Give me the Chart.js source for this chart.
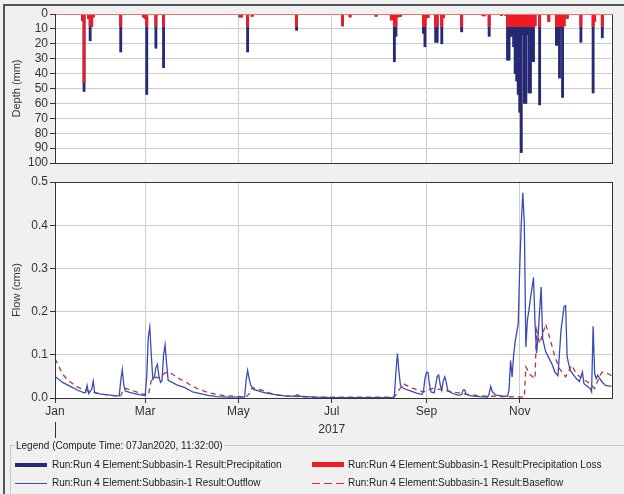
<!DOCTYPE html>
<html>
<head>
<meta charset="utf-8">
<script src="https://cdn.jsdelivr.net/npm/chart.js@4"></script>
<style>
  html,body{margin:0;padding:0;background:#f0f0f0;}
  #page{position:relative;width:624px;height:494px;overflow:hidden;background:#f0f0f0;font-family:"Liberation Sans",Arial,sans-serif;color:#222;}
  #frame{position:absolute;left:3px;top:4px;width:700px;height:600px;border-top:2px solid #555;border-left:2px solid #555;}
  canvas{position:absolute;left:0;}
  #c1{top:0;}
  #c2{top:170px;}
  fieldset{position:absolute;left:10px;top:440px;width:640px;height:70px;margin:0;padding:0;border:1px solid #c8c8c8;}
  legend{font-size:10px;padding:0 1px;margin-left:4px;color:#222;}
  .t{position:absolute;font-size:10px;line-height:12px;white-space:nowrap;color:#222;}
  .sw{position:absolute;}
</style>
</head>
<body>
<div id="page">
  <div id="frame"></div>
  <canvas id="c1" width="624" height="175"></canvas>
  <canvas id="c2" width="624" height="270"></canvas>
  <fieldset><legend>Legend (Compute Time: 07Jan2020, 11:32:00)</legend></fieldset>
  <div class="sw" style="left:15px;top:463px;width:32px;height:4px;background:#262a74;"></div>
  <div class="t" style="left:52px;top:459px;">Run:Run 4 Element:Subbasin-1 Result:Precipitation</div>
  <div class="sw" style="left:312px;top:462px;width:32px;height:5px;background:#ee1c24;"></div>
  <div class="t" style="left:348px;top:459px;">Run:Run 4 Element:Subbasin-1 Result:Precipitation Loss</div>
  <div class="sw" style="left:15px;top:483px;width:32px;height:1px;background:#3a4bb5;"></div>
  <div class="t" style="left:52px;top:477px;">Run:Run 4 Element:Subbasin-1 Result:Outflow</div>
  <div class="sw" style="left:312px;top:483px;width:32px;height:1px;background:repeating-linear-gradient(90deg,#b03a3a 0 8px,transparent 8px 12px);"></div>
  <div class="t" style="left:348px;top:477px;">Run:Run 4 Element:Subbasin-1 Result:Baseflow</div>
</div>
<script>
// ---- tick labels / categories ----
const monthLabels = ['Jan','Mar','May','Jul','Sep','Nov'];
const monthDays   = [0, 59, 120, 181, 243, 304];
const yearLabel = '2017';

// ---- precipitation (mm), day of year ----
const precipDays = [18,19,22,23,24,25,43,58,59,60,66,71,121,122,126,129,158,188,193,210,220,222,223,224,225,226,241,242,243,244,249,250,253,254,266,280,281,284,292,295,296,297,298,299,300,301,302,303,304,305,306,307,308,309,310,311,312,313,314,317,323,328,329,330,331,332,333,335,344,352,353,358];
const precipTotal = [4.5,52,3,18,8.5,2,25.5,2,3,54,23,36,2,2,25.5,1.5,11,8,2,1.5,4,32,15,2,1.5,1.5,13,22,2.5,2.5,19,19,20,2.5,12,1.2,1.2,15,1,1,31,31,15,15,22,40,45,54,66,93,14,60,60,14,53,53,32,32,8,61,5,21,21,43,10,56,8,3,19,53,5,16];
const precipLoss  = [4.5,46,3,8.5,8.5,2,8.5,2,3,8.5,8.5,8.5,2,2,8.5,1.5,8.5,8,2,1.5,4,8.5,8.5,2,1.5,1.5,8.5,8.5,2.5,2.5,8.5,8.5,8.5,2.5,8.5,1.2,1.2,8.5,1,1,8.5,8.5,8.5,8.5,8.5,8.5,8.5,8.5,8.5,8.5,8.5,8.5,8.5,8.5,8.5,8.5,8.5,8.5,8,8.5,5,8.5,8.5,8.5,8.5,8.5,8,3,8.5,8.5,5,8.5];

// ---- outflow (cms) ----
const outflowDays = [0,5,10,15,19,20,21,22,24,25,26,30,35,40,42,43,44,45,46,50,55,59,60,61,62,63,64,65,66,67,68,69,70,71,72,73,74,80,85,90,95,100,106,115,124,125,126,127,128,130,135,140,145,150,157,158,159,160,170,180,200,221,222,223,224,225,226,228,232,236,240,241,242,243,244,245,246,248,249,250,251,252,253,254,255,256,257,260,264,266,267,268,269,272,278,283,284,285,286,288,292,296,297,298,299,300,301,303,304,305,306,307,308,309,310,311,313,314,315,316,318,319,321,325,327,329,331,333,334,335,337,341,343,345,346,350,351,352,353,354,355,357,360,364,365];
const outflowVals = [0.050,0.036,0.027,0.018,0.012,0.013,0.029,0.010,0.020,0.039,0.012,0.009,0.007,0.005,0.005,0.040,0.066,0.030,0.016,0.012,0.008,0.006,0.050,0.140,0.164,0.100,0.043,0.048,0.070,0.078,0.050,0.036,0.040,0.100,0.123,0.080,0.041,0.030,0.024,0.014,0.010,0.006,0.003,0.002,0.002,0.040,0.064,0.045,0.030,0.020,0.014,0.010,0.007,0.005,0.004,0.007,0.007,0.004,0.002,0.001,0.001,0.001,0.005,0.060,0.103,0.060,0.029,0.022,0.017,0.012,0.008,0.015,0.045,0.059,0.059,0.030,0.014,0.012,0.030,0.050,0.053,0.030,0.018,0.040,0.049,0.035,0.016,0.011,0.006,0.008,0.019,0.019,0.008,0.005,0.003,0.002,0.010,0.027,0.015,0.007,0.005,0.004,0.020,0.087,0.049,0.099,0.130,0.172,0.303,0.404,0.475,0.404,0.118,0.180,0.203,0.230,0.279,0.172,0.104,0.145,0.257,0.137,0.107,0.079,0.060,0.052,0.157,0.212,0.214,0.095,0.064,0.045,0.038,0.060,0.033,0.022,0.014,0.166,0.056,0.045,0.053,0.041,0.029,0.027];

// ---- baseflow (cms) ----
const baseDays = [0,3,5,8,10,15,19,22,25,27,30,35,40,43,45,46,50,55,59,61,63,64,66,68,70,72,75,80,86,90,95,99,106,112,119,125,127,129,133,137,140,145,150,160,170,180,200,222,225,228,232,236,240,243,245,247,252,256,262,269,278,286,295,307,308,311,314,315,317,321,324,327,330,334,338,341,345,350,353,356,358,362,365];
const baseVals = [0.091,0.070,0.055,0.043,0.037,0.025,0.019,0.016,0.013,0.012,0.009,0.007,0.005,0.005,0.022,0.022,0.018,0.012,0.008,0.006,0.041,0.045,0.048,0.047,0.052,0.058,0.060,0.047,0.036,0.027,0.019,0.014,0.008,0.005,0.004,0.002,0.010,0.024,0.020,0.017,0.012,0.008,0.005,0.003,0.002,0.002,0.002,0.002,0.018,0.033,0.025,0.020,0.015,0.015,0.020,0.022,0.020,0.017,0.013,0.009,0.005,0.004,0.003,0.002,0.072,0.053,0.045,0.157,0.126,0.171,0.134,0.095,0.068,0.049,0.076,0.056,0.045,0.033,0.022,0.049,0.060,0.056,0.049];

const FONT = '"Liberation Sans", Arial, sans-serif';
const monthLabelFor = v => { const i = monthDays.indexOf(v); return i >= 0 ? monthLabels[i] : ''; };

const plotBox = {
  id: 'plotBox',
  beforeDraw(chart) {
    const a = chart.chartArea, c = chart.ctx;
    c.save(); c.fillStyle = '#ffffff'; c.fillRect(a.left, a.top, a.right - a.left, a.bottom - a.top); c.restore();
  },
  afterDraw(chart, args, opts) {
    const a = chart.chartArea, c = chart.ctx;
    c.save();
    c.strokeStyle = '#333'; c.lineWidth = 1;
    c.strokeRect(Math.round(a.left) + 0.5, Math.round(a.top) + 0.5, Math.round(a.right - a.left) - 1, Math.round(a.bottom - a.top));
    if (opts.redTop) {
      c.strokeStyle = '#f07070';
      c.beginPath(); c.moveTo(a.left + 1, Math.round(a.top) + 0.5); c.lineTo(a.right, Math.round(a.top) + 0.5); c.stroke();
    }
    if (opts.year) {
      const xs = chart.scales.x;
      c.fillStyle = '#333'; c.font = '12px ' + FONT; c.textAlign = 'center'; c.textBaseline = 'middle';
      c.fillText(yearLabel, xs.getPixelForValue(181), 260);
      const x0 = Math.round(xs.getPixelForValue(0)) + 0.5;
      c.strokeStyle = '#333'; c.beginPath(); c.moveTo(x0, 252); c.lineTo(x0, 268); c.stroke();
    }
    c.restore();
  }
};

const xScaleBase = (showLabels) => ({
  type: 'linear', min: 0, max: 365, offset: false,
  afterBuildTicks: s => { s.ticks = monthDays.map(v => ({ value: v })); },
  ticks: { display: showLabels, autoSkip: false, maxRotation: 0, color: '#333', font: { size: 12, family: FONT }, padding: 1, callback: v => monthLabelFor(v) },
  grid: { color: '#cccccc', lineWidth: 1, offset: false, drawTicks: showLabels, tickLength: 5, tickColor: '#333' },
  border: { display: false },
  afterFit: s => { s.height = showLabels ? 42 : 0; }
});

new Chart(document.getElementById('c1'), {
  type: 'bar',
  data: {
    datasets: [
      { label: 'Precipitation Loss', data: precipDays.map((d, i) => ({ x: d, y: precipLoss[i] })), backgroundColor: '#ee1c24', order: 0, barThickness: 2.2, grouped: false },
      { label: 'Precipitation', data: precipDays.map((d, i) => ({ x: d, y: precipTotal[i] })), backgroundColor: '#262a74', order: 1, barThickness: 2.2, grouped: false }
    ]
  },
  options: {
    responsive: false, animation: false, devicePixelRatio: 1,
    layout: { padding: { left: 0, right: 11, top: 14, bottom: 12 } },
    plugins: { legend: { display: false }, tooltip: { enabled: false }, plotBox: { redTop: true } },
    scales: {
      x: xScaleBase(false),
      y: {
        reverse: true, min: 0, max: 100,
        afterBuildTicks: s => { const t = []; for (let v = 0; v <= 100; v += 10) t.push({ value: v }); s.ticks = t; },
        ticks: { autoSkip: false, color: '#333', font: { size: 12, family: FONT }, padding: 2 },
        grid: { color: '#cccccc', tickLength: 5, tickColor: '#333' },
        border: { display: false },
        title: { display: true, text: 'Depth (mm)', color: '#333', font: { size: 11, family: FONT }, padding: { top: 10, bottom: 0 } },
        afterFit: s => { s.width = 55; }
      }
    }
  },
  plugins: [plotBox]
});

new Chart(document.getElementById('c2'), {
  type: 'line',
  data: {
    datasets: [
      { label: 'Outflow', data: outflowDays.map((d, i) => ({ x: d, y: outflowVals[i] })), borderColor: '#3a4bb5', borderWidth: 1.3, pointRadius: 0, tension: 0, fill: false },
      { label: 'Baseflow', data: baseDays.map((d, i) => ({ x: d, y: baseVals[i] })), borderColor: '#b03a3a', borderWidth: 1.3, borderDash: [5, 4], pointRadius: 0, tension: 0, fill: false }
    ]
  },
  options: {
    responsive: false, animation: false, devicePixelRatio: 1,
    layout: { padding: { left: 0, right: 11, top: 12, bottom: 0 } },
    plugins: { legend: { display: false }, tooltip: { enabled: false }, plotBox: { redTop: false, year: true } },
    scales: {
      x: xScaleBase(true),
      y: {
        min: 0, max: 0.5,
        ticks: { stepSize: 0.1, autoSkip: false, color: '#333', font: { size: 12, family: FONT }, padding: 2, callback: v => v.toFixed(1) },
        grid: { color: '#cccccc', tickLength: 5, tickColor: '#333' },
        border: { display: false },
        title: { display: true, text: 'Flow (cms)', color: '#333', font: { size: 11, family: FONT }, padding: { top: 10, bottom: 0 } },
        afterFit: s => { s.width = 55; }
      }
    }
  },
  plugins: [plotBox]
});
</script>
</body>
</html>
